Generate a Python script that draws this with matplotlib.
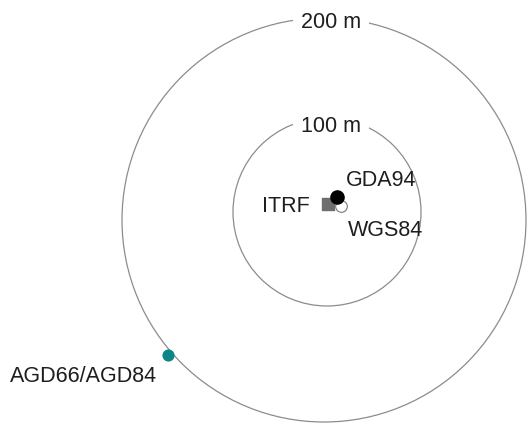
import matplotlib.pyplot as plt
from matplotlib.patches import Circle

plt.rcParams['font.family'] = ['Liberation Sans', 'DejaVu Sans']

# rings (metres, drawn about the datum origin)
ring_cx     = [0, 3]
ring_cy     = [0, 8]
ring_radius = [202, 94]
ring_label  = ['200 m', '100 m']
ring_lab_x  = [7, 7]
ring_lab_y  = [198, 93]

# datum positions
datum_name = ['GDA94', 'ITRF', 'WGS84', 'AGD66/AGD84']
datum_x    = [13, 4, 17, -156]
datum_y    = [23, 16, 14, -135]
label_x    = [22, -62, 24, -314]
label_y    = [39, 14, -10, -157]

fig = plt.figure(figsize=(5.29, 4.23), dpi=100)
ax = fig.add_axes([0, 0, 1, 1])
ax.set_xlim(-324, 205)
ax.set_ylim(-203, 220)
ax.set_aspect('equal')
ax.axis('off')

for cx, cy, r in zip(ring_cx, ring_cy, ring_radius):
    ax.add_patch(Circle((cx, cy), r, fill=False, ec='#8c8c8c', lw=0.9))

for t, x, y in zip(ring_label, ring_lab_x, ring_lab_y):
    ax.text(x, y, t, ha='center', va='center', fontsize=15.5, color='#1e1e1e',
            bbox=dict(fc='white', ec='none', pad=6))

# markers
ax.scatter(datum_x[1], datum_y[1], marker='s', s=65, c='#6e6e6e', zorder=3)
ax.scatter(datum_x[2], datum_y[2], marker='o', s=70, c='white',
           edgecolors='#777777', linewidths=0.8, zorder=4)
ax.scatter(datum_x[0], datum_y[0], marker='o', s=90, c='black', zorder=5)
ax.scatter(datum_x[3], datum_y[3], marker='o', s=60, c='#0b8585', zorder=5)

for t, x, y in zip(datum_name, label_x, label_y):
    ax.text(x, y, t, ha='left', va='center', fontsize=15.5, color='#1e1e1e')

plt.savefig('out.png', dpi=100)
